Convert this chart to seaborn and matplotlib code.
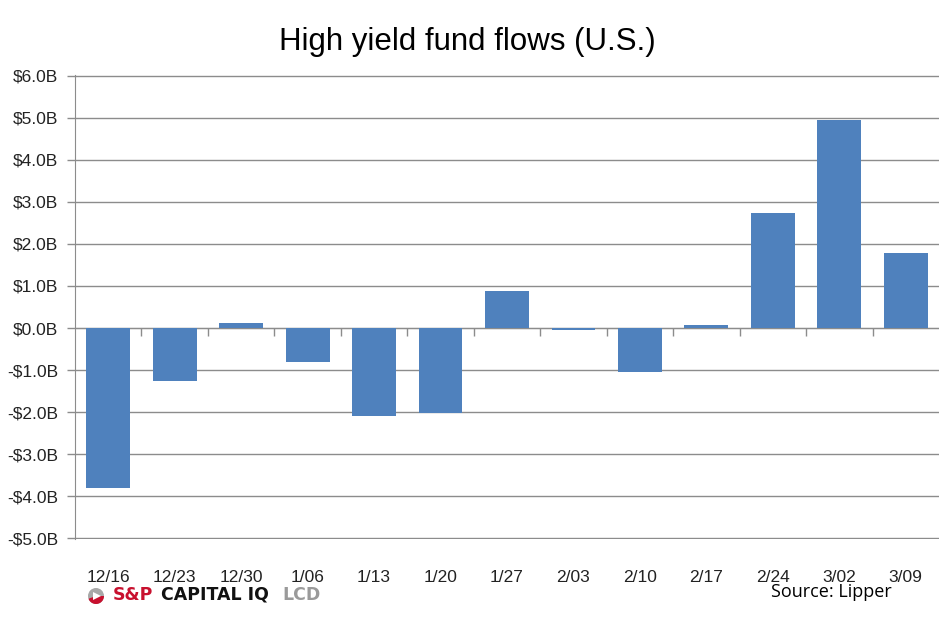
import numpy as np
import pandas as pd
import matplotlib
matplotlib.use("Agg")
import matplotlib.pyplot as plt
import matplotlib.patches as mpatches
from matplotlib.ticker import FixedLocator, FuncFormatter
import seaborn as sns

weeks = ["12/16", "12/23", "12/30", "1/06", "1/13", "1/20", "1/27",
         "2/03", "2/10", "2/17", "2/24", "3/02", "3/09"]
flows = [-3.81, -1.26, 0.12, -0.81, -2.10, -2.03, 0.88,
         -0.04, -1.04, 0.07, 2.74, 4.95, 1.79]

sns.set_style("white")
plt.rcParams['font.family'] = ['Liberation Sans Narrow', 'Liberation Sans', 'DejaVu Sans']

df = pd.DataFrame({"week": weeks, "flow": flows})

fig = plt.figure(figsize=(9.39, 6.18), dpi=100)
ax = fig.add_axes([75 / 939, 1 - 539 / 618, 1 - 75 / 939, (539 - 75) / 618])

sns.barplot(data=df, x="week", y="flow", color="#4F81BD", width=0.66,
            saturation=1, ax=ax, zorder=3, edgecolor="none", linewidth=0)

grey = "#8C8C8C"
ax.set_ylim(-5.02, 6.02)
ax.set_xlim(-0.5, len(weeks) - 0.5)
ax.set_yticks(np.arange(-5, 7, 1))
ax.yaxis.set_major_formatter(FuncFormatter(lambda v, p: f"${v:.1f}B" if v >= 0 else f"-${-v:.1f}B"))
ax.grid(axis="y", color=grey, linewidth=1, zorder=0)
ax.set_axisbelow(True)
ax.tick_params(axis="y", length=6, width=1, color=grey, pad=6, labelsize=12.5,
               direction="out", left=True)
for lab in ax.get_yticklabels():
    lab.set_color("#222222")

for s in ["top", "right"]:
    ax.spines[s].set_visible(False)
ax.spines["left"].set_color(grey)
ax.spines["bottom"].set_position(("data", 0))
ax.spines["bottom"].set_color(grey)
ax.spines["bottom"].set_zorder(2.5)

# separators between categories on the zero line
ax.xaxis.set_minor_locator(FixedLocator(np.arange(0.5, len(weeks) - 1, 1)))
ax.tick_params(axis="x", which="minor", length=6, width=1, color=grey,
               direction="out", bottom=True)
ax.tick_params(axis="x", which="major", length=0, labelbottom=False)
ax.set_xlabel("")
ax.set_ylabel("")

sec = ax.secondary_xaxis(0)
sec.set_xticks(range(len(weeks)))
sec.set_xticklabels(weeks)
sec.tick_params(length=0, pad=22, labelsize=12.5, labelcolor="#222222")
sec.spines["bottom"].set_visible(False)

fig.text(467 / 939, 1 - 42 / 618, "High yield fund flows (U.S.)", ha="center",
         va="center", fontsize=22.5, color="black")

# logo
cx, cy = 96 / 939, 1 - 596 / 618
rx, ry = 8 / 939, 8 / 618
ic = mpatches.Ellipse((cx, cy), 2 * rx, 2 * ry, transform=fig.transFigure,
                      facecolor="#A8A8A8", edgecolor="none")
fig.patches.append(ic)
t = np.linspace(np.radians(200), np.radians(360), 30)
red = [(cx, cy)] + [(cx + rx * np.cos(a), cy + ry * np.sin(a)) for a in t]
fig.patches.append(mpatches.Polygon(red, closed=True, transform=fig.transFigure,
                                    facecolor="#C8102E", edgecolor="none"))
arrow = mpatches.Polygon([(cx - 3 / 939, cy + 4 / 618), (cx + 5 / 939, cy),
                          (cx - 3 / 939, cy - 4 / 618)], closed=True,
                         transform=fig.transFigure, facecolor="white", edgecolor="none")
fig.patches.append(arrow)
logo_kw = dict(va="center", ha="left", fontsize=12.5, fontweight="bold",
               family="DejaVu Sans")
fig.text(113 / 939, 1 - 595 / 618, "S&P", color="#C8102E", **logo_kw)
fig.text(161 / 939, 1 - 595 / 618, "CAPITAL IQ", color="#111111", **logo_kw)
fig.text(282 / 939, 1 - 595 / 618, "LCD", color="#9A9A9A", **logo_kw)

fig.text(831 / 939, 1 - 592 / 618, "Source: Lipper", ha="center", va="center",
         fontsize=13, family=["Open Sans", "DejaVu Sans"], color="black")

fig.savefig("out.png", dpi=100)
